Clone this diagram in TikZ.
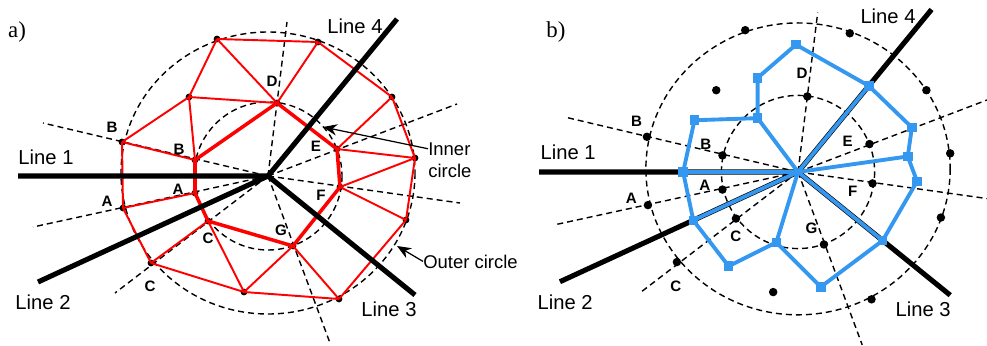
\documentclass[tikz,border=0pt]{standalone}
\usepackage{fontspec}
\setmainfont{Liberation Sans}
\newfontfamily\panelserif{Liberation Serif}
\usetikzlibrary{arrows.meta,calc}

\definecolor{cellblue}{RGB}{52,152,240}

% shared by both panels: sites, rings and dashed sector rays
\newcommand{\sectorgrid}{%
  \coordinate (c) at (268,176);
  \coordinate (oc) at (268,173);
  \coordinate (l1) at (18,176);
  \coordinate (l2) at (38,282);
  \coordinate (l3) at (415,295);
  \coordinate (l4) at (397,19);
  % outer ring sites
  \coordinate (o1) at (217,39);
  \coordinate (o2) at (318,42);
  \coordinate (o3) at (392,97);
  \coordinate (o4) at (415,158);
  \coordinate (o5) at (406,220);
  \coordinate (o6) at (339,299);
  \coordinate (o7) at (244,292);
  \coordinate (o8) at (151,263);
  \coordinate (o9) at (123,208);
  \coordinate (o10) at (122,142);
  \coordinate (m) at (189,97);
  % inner ring sites
  \coordinate (ai) at (195,193);
  \coordinate (bi) at (195,160);
  \coordinate (ci) at (208,221);
  \coordinate (d) at (277,103);
  \coordinate (e) at (337,149);
  \coordinate (f) at (340,187);
  \coordinate (g) at (293,246);
  % ray ends
  \coordinate (ra) at (33,227);
  \coordinate (rb) at (43,123);
  \coordinate (rc) at (115,293);
  \coordinate (rd) at (287,22);
  \coordinate (re) at (457,104);
  \coordinate (rf) at (460,203);
  \coordinate (rg) at (330,343);
  \draw[ringline] (oc) ellipse [x radius=147, y radius=141];
  \draw[ringline] (c) circle [radius=74];
  \foreach \ray in {ra,rb,rc,rd,re,rf,rg}
    \draw[ringline] (c) -- (\ray);
}

% the four thick lines
\newcommand{\sectorlines}{%
  \draw[boundary] (l1) -- (c) -- (l3);
  \draw[boundary] (l2) -- (c) -- (l4);
}

% site letters and line names
\newcommand{\sectorlabels}{%
  \node[seclbl] (tbo) at (112,127) {B};
  \node[seclbl] (tbi) at (179,149) {B};
  \node[seclbl] (tao) at (107,201) {A};
  \node[seclbl] (tai) at (178,189) {A};
  \node[seclbl] (tci) at (208,238) {C};
  \node[seclbl] (tco) at (150,286) {C};
  \node[seclbl] (td) at (272,81) {D};
  \node[seclbl] (te) at (316,146) {E};
  \node[seclbl] (tf) at (321,195) {F};
  \node[seclbl] (tg) at (281,230) {G};
  \node[linelbl] (tl1) at (46,157) {Line 1};
  \node[linelbl] (tl2) at (43,302) {Line 2};
  \node[linelbl] (tl3) at (389,309) {Line 3};
  \node[linelbl] (tl4) at (355,26) {Line 4};
}

\begin{document}
\begin{tikzpicture}[x=0.02cm, y=-0.02cm,
  ringline/.style={dash pattern=on 3.4pt off 2.3pt, line width=0.8pt},
  boundary/.style={line width=2.9pt, line join=round},
  redlink/.style={red, line width=1.1pt},
  redhull/.style={red, line width=2pt, line join=round},
  bluecell/.style={cellblue, line width=2.2pt, line join=round},
  bluesq/.style={fill=cellblue, minimum size=5.4pt, inner sep=0pt},
  seclbl/.style={font=\fontsize{8.6}{10}\selectfont\bfseries, inner sep=0pt},
  linelbl/.style={font=\fontsize{11.5}{13}\selectfont, inner sep=0pt},
  note/.style={font=\fontsize{10.5}{12}\selectfont, inner sep=0pt},
  paneltag/.style={font=\panelserif\fontsize{13}{15}\selectfont, inner sep=0pt},
  >={Stealth[length=8pt,width=6.5pt]}]
\useasboundingbox (0,0) rectangle (987,345);

\node[paneltag] (taga) at (17,32) {a)};
\node[paneltag] (tagb) at (556,32) {b)};

% a) triangulation
\begin{scope}[name prefix=a-]
  \sectorgrid
  \foreach \p in {o1,o2,o3,o4,o5,o6,o7,o8,o9,o10,m,ai,bi,ci,d,e,f,g}
    \fill (\p) circle [radius=3.4];
  \foreach \pa/\pb in {o1/o2,o2/o3,o3/o4,o4/o5,o5/o6,o6/o7,o7/o8,o8/o9,o9/o10,
      o10/m,m/o1,o1/d,o2/d,m/d,m/bi,o10/bi,o9/ai,o8/ci,ci/o7,g/o7,g/o6,
      f/o5,f/o4,e/o4,e/o3}
    \draw[redlink] (\pa) -- (\pb);
  \draw[redhull] (bi) -- (d) -- (e) -- (f) -- (g) -- (ci) -- (ai) -- cycle;
  \sectorlines
  \sectorlabels
  \node[note, anchor=base west] (innertxt) at (428,155) {Inner};
  \node[note, anchor=base west] (innertxt2) at (428,177) {circle};
  \node[note, anchor=base west] (outertxt) at (423,268) {Outer circle};
  \coordinate (innertip) at (323,127);
  \coordinate (outertip) at (397,246);
  \draw[->, line width=0.7pt] (innertxt.west) -- (innertip);
  \draw[->, line width=0.7pt] (outertxt.west) -- (outertip);
\end{scope}

% b) cells
\begin{scope}[name prefix=b-, shift={(520.6,-10.2)}, scale=1.035]
  \sectorgrid
  \sectorlines
  \coordinate (p1) at (266,53);
  \coordinate (p2) at ($(c)!0.53!(l4)$);
  \coordinate (p3) at (378,133);
  \coordinate (p4) at (374,161);
  \coordinate (p5) at (383,185);
  \coordinate (p6) at ($(c)!0.556!(l3)$);
  \coordinate (p7) at (290,287);
  \coordinate (p8) at (247,244);
  \coordinate (p9) at (201,267);
  \coordinate (p10) at ($(c)!0.44!(l2)$);
  \coordinate (p11) at ($(c)!0.444!(l1)$);
  \coordinate (p12) at (168,126);
  \coordinate (p13) at (229,124);
  \coordinate (p14) at (229,85);
  \draw[bluecell] (p11) -- (p12) -- (p13) -- (p14) -- (p1) -- (p2) -- (p3)
    -- (p4) -- (p5) -- (p6) -- (p7) -- (p8) -- (p9) -- (p10) -- cycle;
  \foreach \p in {p2,p4,p6,p8,p10,p11,p13}
    \draw[bluecell] (c) -- (\p);
  \foreach \i in {1,...,14}
    \node[bluesq] (sq\i) at (p\i) {};
  \foreach \p in {o1,o2,o3,o4,o5,o6,o7,o8,o9,o10,m,ai,bi,ci,d,e,f,g}
    \fill (\p) circle [radius=4.1];
  \sectorlabels
\end{scope}
\end{tikzpicture}
\end{document}
